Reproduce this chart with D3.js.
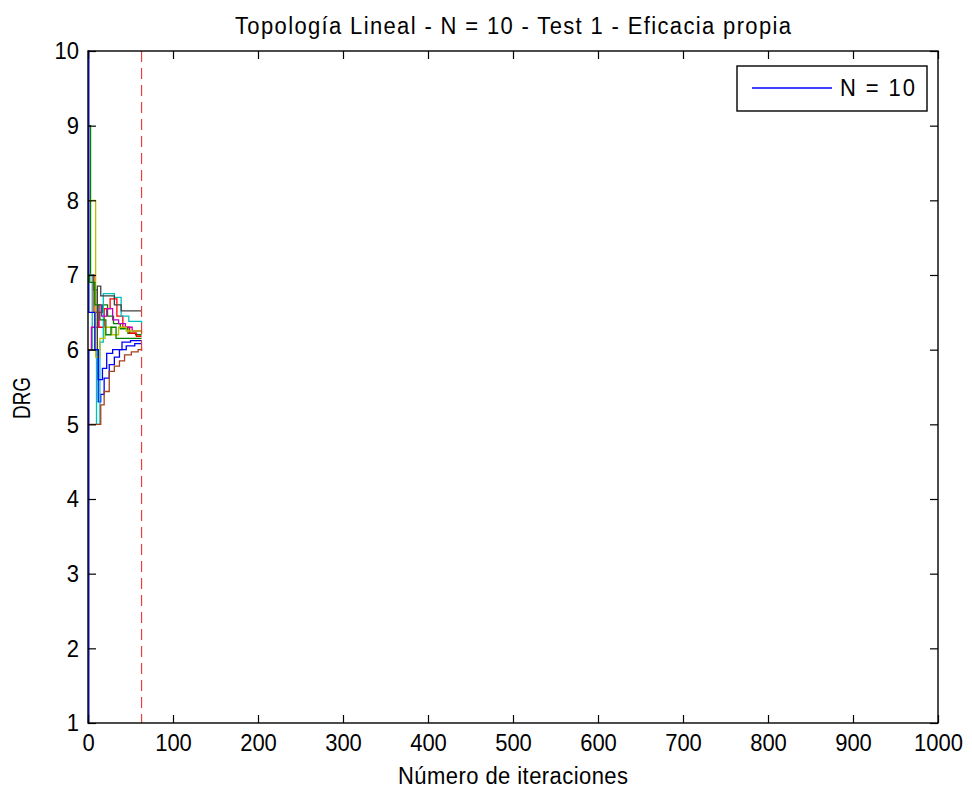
<!DOCTYPE html>
<html>
<head>
<meta charset="utf-8">
<script src="https://cdn.jsdelivr.net/npm/d3@7"></script>
<style>
  html, body { margin: 0; padding: 0; background: #fff; }
  svg { display: block; }
  text { font-family: "Liberation Sans", Arial, sans-serif; fill: #000; }
</style>
</head>
<body>
<svg id="chart" width="972" height="794"></svg>
<script>
// Chart text
const chartTitle = "Topología Lineal - N = 10 - Test 1 - Eficacia propia";
const xLabel = "Número de iteraciones";
const yLabel = "DRG";
const legendLabel = "N = 10";

// Axis ticks
const xTicks = [0, 100, 200, 300, 400, 500, 600, 700, 800, 900, 1000];
const yTicks = [1, 2, 3, 4, 5, 6, 7, 8, 9, 10];

// Iteration at which the nodes are considered converged (dashed marker)
const convergenceIter = 63;

// DRG of each node per iteration, stored as [iteration, value] change points (stairs)
const node1  = [[0, 1], [1, 6], [12, 5.3], [15, 5.4], [19, 5.62], [25, 5.8], [31, 5.9], [37, 6.0], [45, 6.05], [55, 6.08], [63, 6.08]];
const node2  = [[0, 9], [3, 7], [6, 6.8], [11, 6.5], [17, 6.6], [23, 6.45], [30, 6.35], [38, 6.28], [47, 6.22], [56, 6.2], [63, 6.2]];
const node3  = [[0, 7], [7, 6.5], [13, 6.3], [19, 6.55], [26, 6.68], [34, 6.45], [41, 6.3], [49, 6.22], [57, 6.18], [63, 6.18]];
const node4  = [[0, 7], [5, 6], [10, 5], [14, 6.1], [18, 6.75], [31, 6.7], [39, 6.45], [48, 6.38], [63, 6.35]];
const node5  = [[0, 6], [4, 6.3], [12, 6.6], [16, 6.45], [22, 6.55], [29, 6.4], [36, 6.35], [44, 6.3], [52, 6.25], [63, 6.25]];
const node6  = [[0, 8], [9, 5.9], [14, 6.15], [20, 6.3], [28, 6.2], [36, 6.3], [45, 6.25], [63, 6.22]];
const node7  = [[0, 6], [11, 6.85], [15, 6.72], [31, 6.6], [39, 6.52], [63, 6.52]];
const node8  = [[0, 10], [1, 6.5], [8, 6], [12, 5.6], [17, 5.75], [22, 5.95], [29, 6.0], [40, 6.1], [50, 6.12], [63, 6.12]];
const node9  = [[0, 7], [2, 6.9], [8, 6.6], [14, 6.4], [21, 6.2], [27, 6.3], [33, 6.15], [42, 6.15], [52, 6.15], [63, 6.15]];
const node10 = [[0, 5], [15, 5.26], [19, 5.44], [25, 5.71], [31, 5.78], [37, 5.85], [43, 5.93], [51, 5.97], [59, 6.0], [63, 6.03]];

const nodes = [node1, node2, node3, node4, node5, node6, node7, node8, node9, node10];
const nodeColors = ["#0000ff", "#008000", "#ff0000", "#00bfbf", "#bf00bf",
                    "#bfbf00", "#404040", "#0000ff", "#008000", "#a8401c"];

const svg = d3.select("#chart");
const plotLeft = 88, plotRight = 938, plotTop = 51, plotBottom = 723;

const x = d3.scaleLinear().domain([0, 1000]).range([plotLeft, plotRight]);
const y = d3.scaleLinear().domain([1, 10]).range([plotBottom, plotTop]);

const fontSize = 22;
const stretchY = 1.1;   // glyphs are drawn slightly taller than wide

// Data lines (drawn first so the axes sit on top)
const plot = svg.append("g");
const line = d3.line()
  .x(d => x(d[0]))
  .y(d => y(d[1]))
  .curve(d3.curveStepAfter);

nodes.forEach((s, i) => {
  plot.append("path")
    .attr("d", line(s))
    .attr("fill", "none")
    .attr("stroke", nodeColors[i])
    .attr("stroke-width", 1.3);
});

// Convergence marker
plot.append("line")
  .attr("x1", x(convergenceIter)).attr("x2", x(convergenceIter))
  .attr("y1", y(10)).attr("y2", y(1))
  .attr("stroke", "#e84040")
  .attr("stroke-width", 1.2)
  .attr("stroke-dasharray", "11,6");

// Axes: ticks inside, on all four sides
const tickLen = 8;
const axes = svg.append("g");

const xAxisG = axes.append("g")
  .attr("transform", `translate(0,${plotBottom})`)
  .call(d3.axisBottom(x).tickValues(xTicks).tickSize(-tickLen).tickPadding(11).tickFormat(d3.format("d")))
  .call(g => g.select(".domain").remove());

axes.append("g")
  .attr("transform", `translate(0,${plotTop})`)
  .call(d3.axisTop(x).tickValues(xTicks).tickSize(-tickLen).tickFormat(""))
  .call(g => g.select(".domain").remove());

const yAxisG = axes.append("g")
  .attr("transform", `translate(${plotLeft},0)`)
  .call(d3.axisLeft(y).tickValues(yTicks).tickSize(-tickLen).tickPadding(9).tickFormat(d3.format("d")))
  .call(g => g.select(".domain").remove());

axes.append("g")
  .attr("transform", `translate(${plotRight},0)`)
  .call(d3.axisRight(y).tickValues(yTicks).tickSize(-tickLen).tickFormat(""))
  .call(g => g.select(".domain").remove());

axes.selectAll(".tick line").attr("stroke", "#000").attr("stroke-width", 1.2);
axes.selectAll(".tick text")
  .style("font-family", "\"Liberation Sans\", Arial, sans-serif")
  .style("font-size", fontSize + "px")
  .attr("fill", "#000");

// stretch tick labels vertically about their own anchor
xAxisG.selectAll(".tick text").each(function () {
  const t = d3.select(this);
  const yy = +t.attr("y");
  t.attr("y", yy / stretchY).attr("transform", `scale(1,${stretchY})`);
});
yAxisG.selectAll(".tick text").attr("transform", `scale(1,${stretchY})`).attr("dy", "0.32em");

// Plot frame
svg.append("rect")
  .attr("x", plotLeft).attr("y", plotTop)
  .attr("width", plotRight - plotLeft).attr("height", plotBottom - plotTop)
  .attr("fill", "none")
  .attr("stroke", "#000")
  .attr("stroke-width", 1.4);

// Title and axis labels
function label(parent, tx, ty, rot, str, len, adjust) {
  const g = parent.append("g")
    .attr("transform", `translate(${tx},${ty}) rotate(${rot}) scale(1,${stretchY})`);
  const t = g.append("text")
    .attr("text-anchor", "middle")
    .style("font-size", fontSize + "px")
    .text(str);
  if (len) t.attr("textLength", len).attr("lengthAdjust", adjust || "spacing");
  return t;
}

label(svg, (plotLeft + plotRight) / 2, 34, 0, chartTitle, 556);
label(svg, (plotLeft + plotRight) / 2, 784, 0, xLabel, 230);
label(svg, 30, 398, -90, yLabel, 42, "spacingAndGlyphs");

// Legend
const lg = svg.append("g");
lg.append("rect")
  .attr("x", 737).attr("y", 66).attr("width", 190).attr("height", 45)
  .attr("fill", "#fff").attr("stroke", "#000").attr("stroke-width", 1.4);
lg.append("line")
  .attr("x1", 752).attr("x2", 832).attr("y1", 88).attr("y2", 88)
  .attr("stroke", nodeColors[0]).attr("stroke-width", 1.3);
lg.append("g")
  .attr("transform", `translate(840,96) scale(1,${stretchY})`)
  .append("text")
  .style("font-size", fontSize + "px")
  .attr("textLength", 75).attr("lengthAdjust", "spacing")
  .text(legendLabel);
</script>
</body>
</html>
